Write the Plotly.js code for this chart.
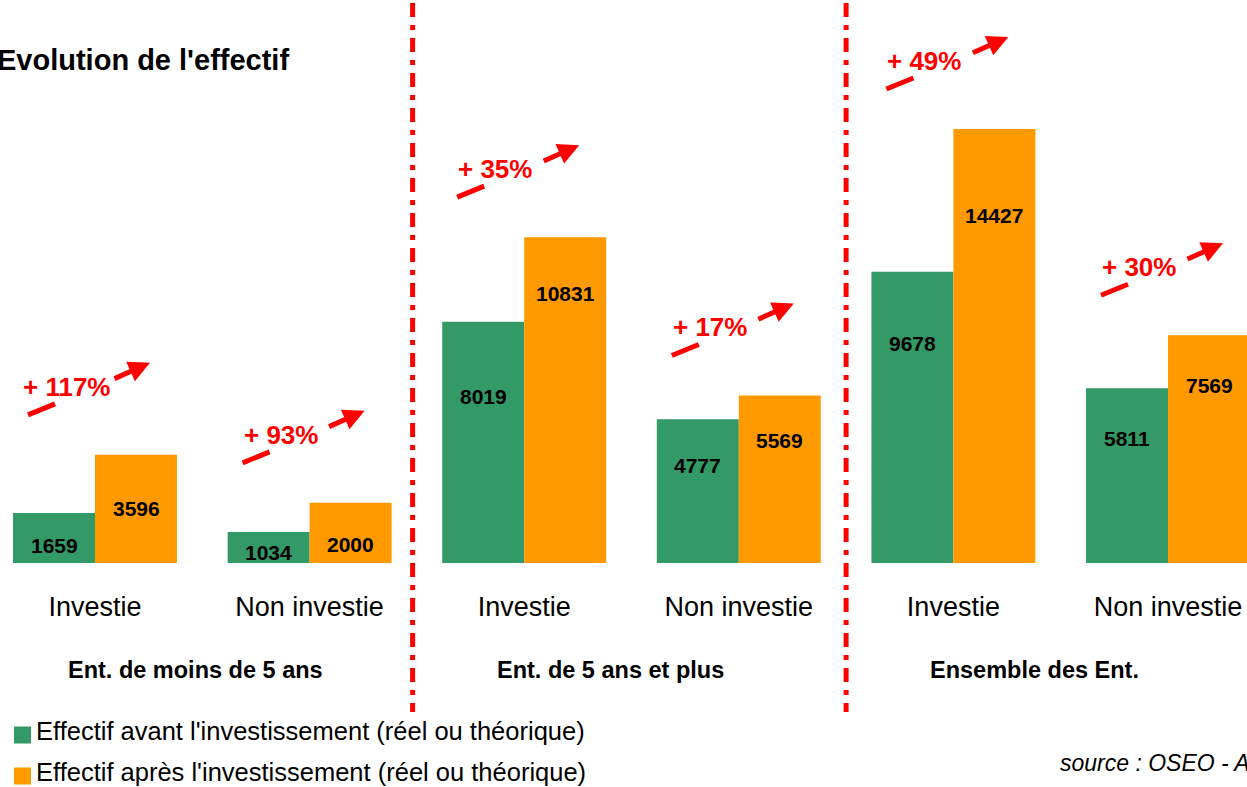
<!DOCTYPE html>
<html>
<head>
<meta charset="utf-8">
<script src="https://cdn.plot.ly/plotly-3.0.1.min.js"></script>
<style>html,body{margin:0;padding:0;background:#fff;}#chart{width:1247px;height:787px;}</style>
</head>
<body>
<div id="chart"></div>
<script>
// ---- data ----
const categories = ['Investie', 'Non investie', 'Investie', 'Non investie', 'Investie', 'Non investie'];
const groupLabels = ['Ent. de moins de 5 ans', 'Ent. de 5 ans et plus', 'Ensemble des Ent.'];
const before = [1659, 1034, 8019, 4777, 9678, 5811];
const after = [3596, 2000, 10831, 5569, 14427, 7569];
const seriesNames = ["Effectif avant l'investissement (réel ou théorique)", "Effectif après l'investissement (réel ou théorique)"];
const chartTitle = "Evolution de l'effectif";
const sourceText = 'source : OSEO - ANVAR';

// ---- style ----
const W = 1247, H = 787, PLOT_BOTTOM = 563;
const GREEN = '#339966', ORANGE = '#FF9900', RED = '#FF0000';
const FONT = '"Liberation Sans", Arial, sans-serif';
const dropBefore = [32, 21, 75, 46, 72, 50];   // label offset below bar top (px)
const dropAfter = [54, 42, 56, 45, 86, 50];
const groupLabelX = [0.47, 2.4, 4.38];
const separatorX = [1.48, 3.5];

const px = x => x / W;
const py = y => (PLOT_BOTTOM - y) / PLOT_BOTTOM;
const xs = categories.map((_, i) => i);

const traces = [
  {type: 'bar', x: xs, y: before, name: seriesNames[0], marker: {color: GREEN}, hoverinfo: 'none'},
  {type: 'bar', x: xs, y: after, name: seriesNames[1], marker: {color: ORANGE}, hoverinfo: 'none'}
];

const annotations = [];
const shapes = [];

// value labels
xs.forEach(i => {
  annotations.push({x: i, y: before[i], xref: 'x', yref: 'y', xshift: -41, yshift: -dropBefore[i],
    text: String(before[i]), showarrow: false, yanchor: 'middle',
    font: {family: FONT, size: 21, color: '#000', weight: 'bold'}});
  annotations.push({x: i, y: after[i], xref: 'x', yref: 'y', xshift: 41, yshift: -dropAfter[i],
    text: String(after[i]), showarrow: false, yanchor: 'middle',
    font: {family: FONT, size: 21, color: '#000', weight: 'bold'}});
});

// growth arrows (tail segment + arrow head segment) + percentage
xs.forEach(i => {
  const pct = Math.round((after[i] / before[i] - 1) * 100);
  shapes.push({type: 'line', xref: 'x', yref: 'y', xsizemode: 'pixel', ysizemode: 'pixel',
    xanchor: i, yanchor: after[i], x0: -67, y0: 40, x1: -40, y1: 51,
    line: {color: RED, width: 5}});
  annotations.push({x: i, y: after[i], xref: 'x', yref: 'y', xshift: 55, yshift: 92,
    ax: -36, ay: 16, axref: 'pixel', ayref: 'pixel', text: '', showarrow: true, borderpad: 0,
    font: {size: 1}, arrowhead: 2, arrowsize: 0.85, arrowwidth: 5, arrowcolor: RED});
  annotations.push({x: i, y: after[i], xref: 'x', yref: 'y', xshift: -29, yshift: 68,
    text: '+ ' + pct + '%', showarrow: false,
    font: {family: FONT, size: 26, color: RED, weight: 'bold'}});
});

// group labels
groupLabels.forEach((g, k) => {
  annotations.push({x: groupLabelX[k], y: py(670), xref: 'x', yref: 'paper', text: g, showarrow: false,
    yanchor: 'middle', font: {family: FONT, size: 23.5, color: '#000', weight: 'bold'}});
});

// title
annotations.push({x: px(-5), y: py(60), xref: 'paper', yref: 'paper', xanchor: 'left', yanchor: 'middle',
  text: chartTitle, showarrow: false, font: {family: FONT, size: 29, color: '#000', weight: 'bold'}});

// legend (manual)
const legendY = [735, 776];
seriesNames.forEach((n, k) => {
  shapes.push({type: 'rect', xref: 'paper', yref: 'paper', x0: px(14), x1: px(31),
    y0: py(legendY[k] + 8.5), y1: py(legendY[k] - 8.5), fillcolor: k === 0 ? GREEN : ORANGE, line: {width: 0}});
  annotations.push({x: px(34), y: py(legendY[k] - 4), xref: 'paper', yref: 'paper', xanchor: 'left', yanchor: 'middle',
    text: n, showarrow: false, font: {family: FONT, size: 25.5, color: '#000'}});
});

// source
annotations.push({x: px(1058), y: py(763), xref: 'paper', yref: 'paper', xanchor: 'left', yanchor: 'middle',
  text: sourceText, showarrow: false, font: {family: FONT, size: 23, color: '#000', style: 'italic'}});

// separators
separatorX.forEach(sx => {
  shapes.push({type: 'line', xref: 'x', yref: 'paper', x0: sx, x1: sx, y0: py(3), y1: py(712),
    line: {color: RED, width: 5, dash: '14px,8px,5px,8px'}});
});

const layout = {
  width: W, height: H,
  margin: {l: 0, r: 0, t: 0, b: H - PLOT_BOTTOM, pad: 0},
  paper_bgcolor: '#fff', plot_bgcolor: '#fff',
  barmode: 'group', bargap: 0.236, bargroupgap: 0,
  showlegend: false,
  xaxis: {range: [-95 / 214.6, (W - 95) / 214.6], tickvals: xs, ticktext: categories,
    showgrid: false, zeroline: false, showline: false, ticks: '', ticklabelstandoff: 25,
    tickfont: {family: FONT, size: 27, color: '#000'}, fixedrange: true},
  yaxis: {range: [0, 18715], visible: false, showgrid: false, zeroline: false, fixedrange: true},
  annotations: annotations,
  shapes: shapes
};

Plotly.newPlot('chart', traces, layout, {displayModeBar: false, staticPlot: true});
</script>
</body>
</html>
